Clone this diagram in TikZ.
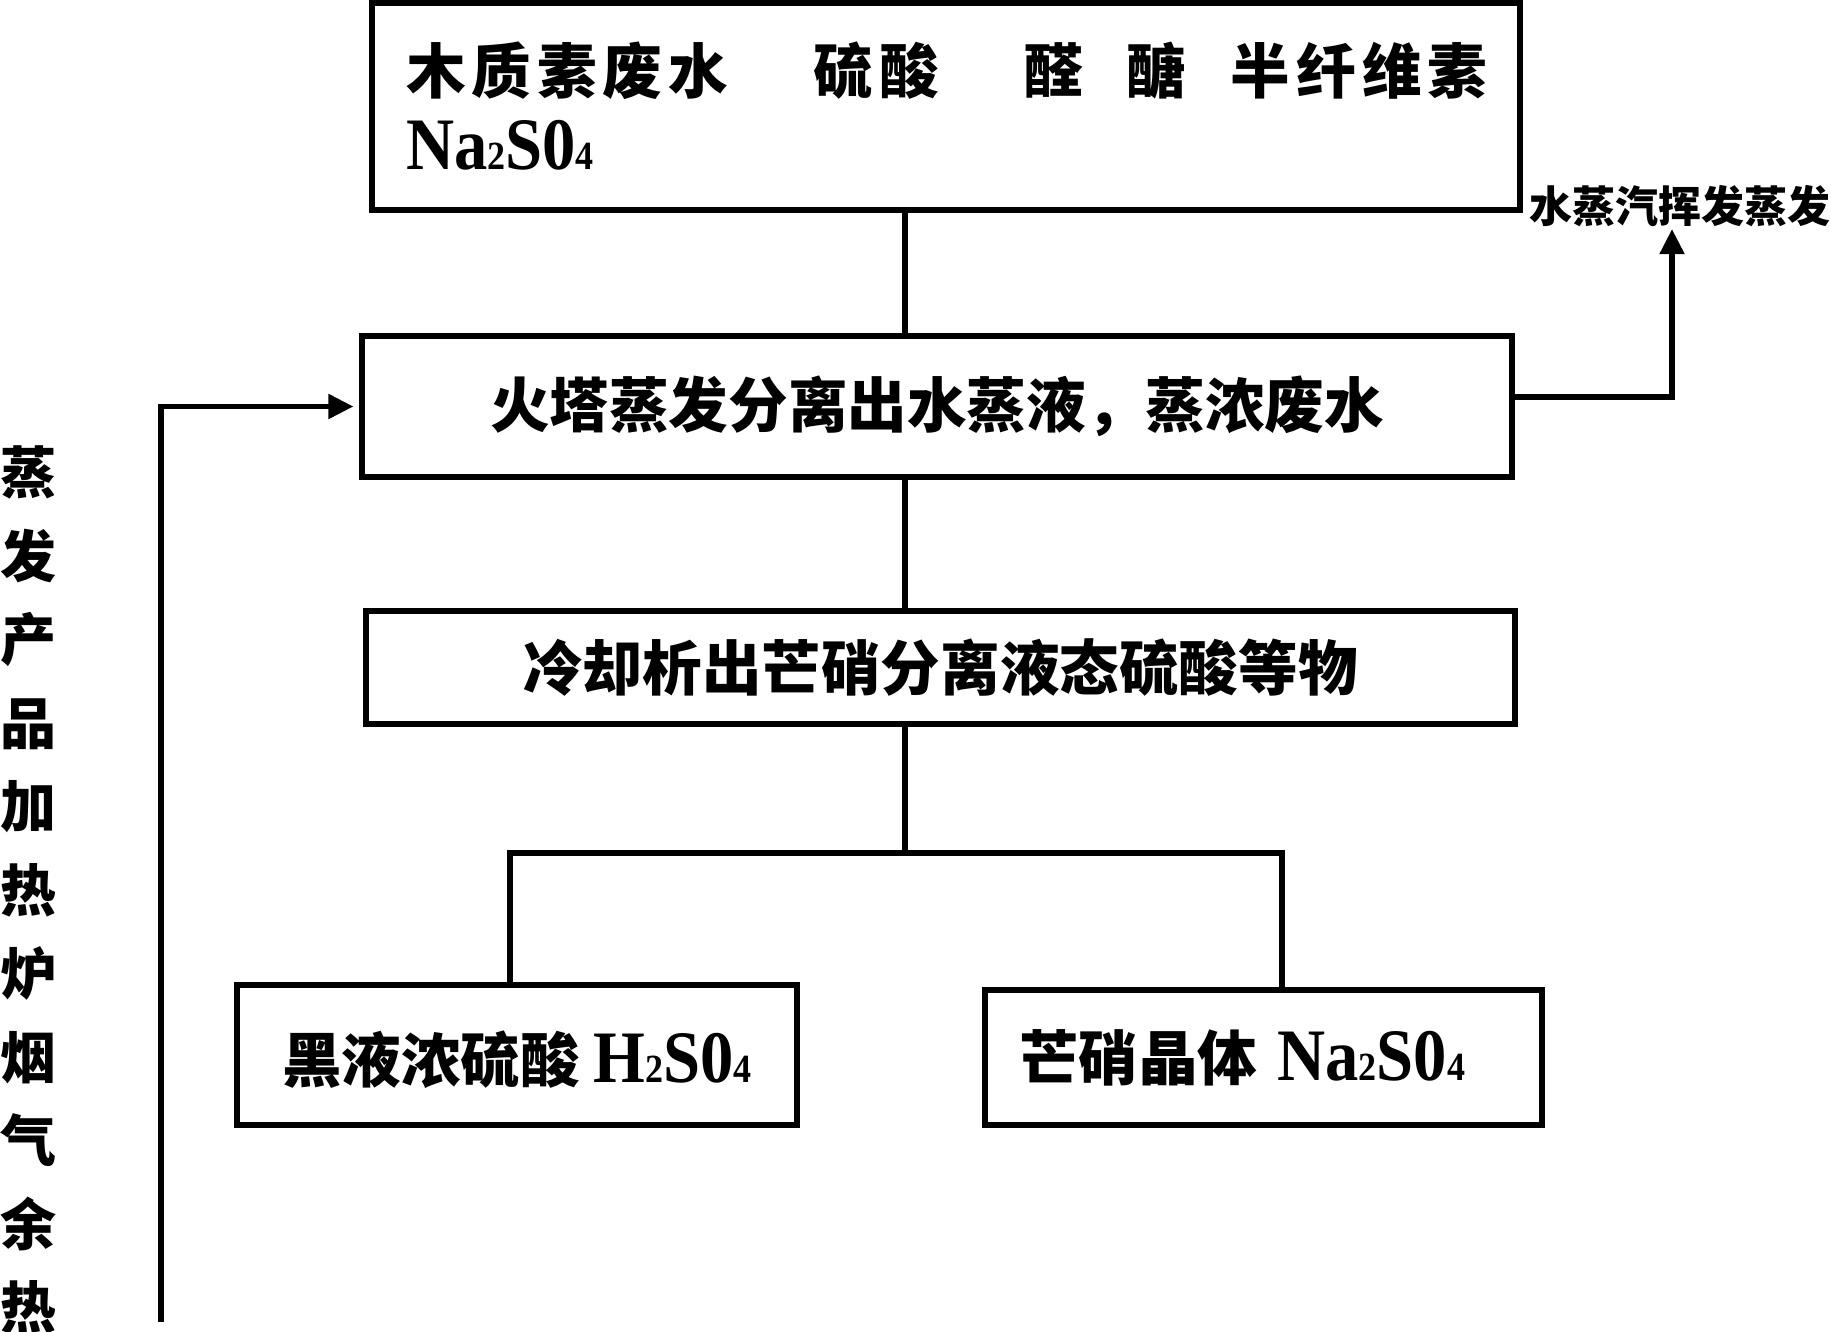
\documentclass[tikz,border=0pt]{standalone}
\usepackage{fontspec}
\newfontfamily\cjkfont{Noto Sans CJK SC}
\newfontfamily\chemfont[FakeStretch=0.9]{Liberation Serif}
\usepackage{tikz}
\usetikzlibrary{
  positioning,
  arrows.meta
}
\newcommand{\chemsub}[1]{{\fontsize{20pt}{20pt}\selectfont #1}}
\newcommand{\chem}[1]{{\chemfont\fontsize{37pt}{38pt}\selectfont #1}}
\tikzset{
  % Process box
  procbox/.style={
    draw,
    line width=2.6pt,
    inner sep=0pt,
    font=\cjkfont\bfseries\fontsize{29.8pt}{38pt}\selectfont
  },
  % Plain flow line
  flow/.style={
    line width=2.6pt
  },
  % Flow line with arrow
  flowarrow/.style={
    flow,
    -{Triangle[length=12.5pt,width=12pt]}
  },
  % Side labels
  sidelabel/.style={font=\cjkfont\bfseries\fontsize{21.5pt}{26pt}\selectfont, inner sep=0pt},
  heatlabel/.style={font=\cjkfont\bfseries\fontsize{28pt}{41.75pt}\selectfont, align=center, inner sep=0pt}
}
\begin{document}
\begin{tikzpicture}[x=0.5pt, y=-0.5pt]
  \useasboundingbox (0,0) rectangle (1831,1332);

  \node[procbox, minimum height=103.5pt, text width=540pt, inner xsep=17pt, align=left] (feed) at (946,106.5)
    {\addfontfeature{LetterSpace=10}\makebox[204pt][l]{木质素废水}\makebox[105pt][l]{硫酸}\makebox[51.5pt][l]{醛}\makebox[52pt][l]{醣}半纤维素\\
     \chem{Na\chemsub{2}S0\chemsub{4}}};
  \node[procbox, minimum width=575pt, minimum height=70.5pt] (evap) at (937,406.5) {火塔蒸发分离出水蒸液，蒸浓废水};
  \node[procbox, minimum width=574.5pt, minimum height=56.5pt] (cool) at (940.5,667.5) {冷却析出芒硝分离液态硫酸等物};
  \node[procbox, minimum width=280pt, minimum height=70pt] (acid) at (517,1055) {\rule{0pt}{31pt}黑液浓硫酸 \chem{H\chemsub{2}S0\chemsub{4}}};
  \node[procbox, minimum height=67.5pt, text width=244.5pt, inner xsep=17pt, align=left] (salt) at (1263.5,1057.5) {芒硝晶体 \chem{Na\chemsub{2}S0\chemsub{4}}};

  \node[sidelabel, anchor=east] (steam) at (1831,206) {水蒸汽挥发蒸发};
  \node[heatlabel] (heat) at (29,890) {蒸\\发\\产\\品\\加\\热\\炉\\烟\\气\\余\\热};

  \coordinate (trunk) at (905,0);
  \coordinate (split) at (905,853);
  \coordinate (splitL) at (510,853);
  \coordinate (splitR) at (1282,853);
  \coordinate (steamturn) at (1672,397);
  \coordinate (heatfoot) at (161,1322);

  \draw[flow] (feed.south -| trunk) -- (evap.north -| trunk);
  \draw[flow] (evap.south -| trunk) -- (cool.north -| trunk);
  \draw[flow] (cool.south -| trunk) -- (split);
  \draw[flow] (acid.north -| splitL) |- (splitR) -- (salt.north -| splitR);
  \draw[flowarrow, shorten >=1pt] (evap.east |- steamturn) -- (steamturn) -- (steamturn |- steam.south);
  \draw[flowarrow, shorten >=3pt] (heatfoot) |- (evap.west);
\end{tikzpicture}
\end{document}
